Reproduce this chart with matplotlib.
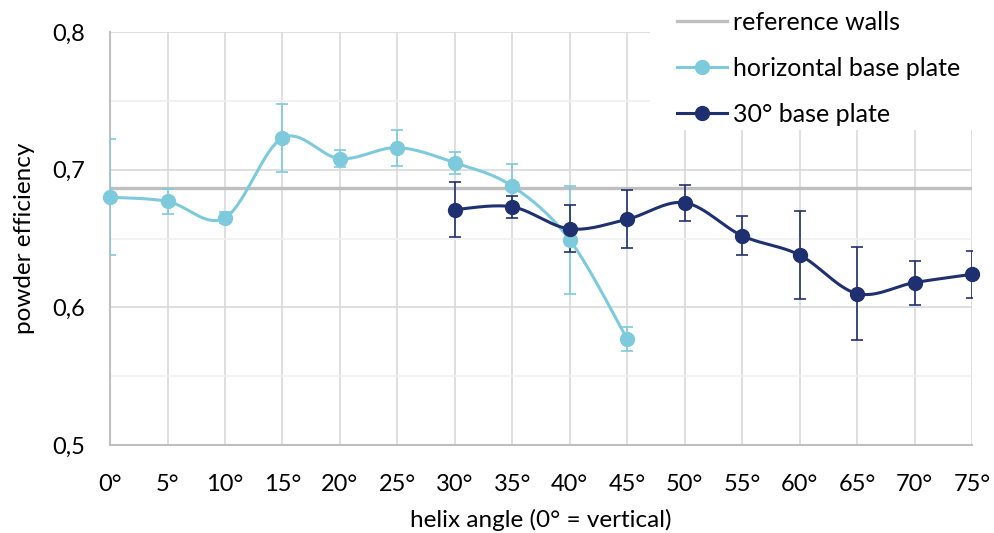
import numpy as np
import matplotlib
matplotlib.use("Agg")
import matplotlib.pyplot as plt
from matplotlib.patches import Rectangle
from matplotlib.ticker import FuncFormatter, MultipleLocator

plt.rcParams['font.family'] = ['Lato', 'DejaVu Sans']

# data
angles_h = [0, 5, 10, 15, 20, 25, 30, 35, 40, 45]
eff_h = [0.680, 0.677, 0.665, 0.723, 0.708, 0.716, 0.705, 0.688, 0.649, 0.577]
err_h = [0.042, 0.009, 0.004, 0.025, 0.006, 0.013, 0.008, 0.016, 0.039, 0.009]

angles_30 = [30, 35, 40, 45, 50, 55, 60, 65, 70, 75]
eff_30 = [0.671, 0.673, 0.657, 0.664, 0.676, 0.652, 0.638, 0.610, 0.618, 0.624]
err_30 = [0.020, 0.008, 0.017, 0.021, 0.013, 0.014, 0.032, 0.034, 0.016, 0.017]

ref_walls = 0.687

light = "#7ECADD"
dark = "#1F3070"


def smooth(x, y, n=30):
    # Catmull-Rom style smoothing like a spreadsheet "smoothed line"
    x = np.asarray(x, float)
    y = np.asarray(y, float)
    px = np.concatenate([[x[0]], x, [x[-1]]])
    py = np.concatenate([[y[0]], y, [y[-1]]])
    xs, ys = [], []
    t = np.linspace(0, 1, n)
    for i in range(1, len(px) - 2):
        p0 = np.array([px[i], py[i]])
        p3 = np.array([px[i + 1], py[i + 1]])
        c1 = p0 + (p3 - np.array([px[i - 1], py[i - 1]])) / 6
        c2 = p3 - (np.array([px[i + 2], py[i + 2]]) - p0) / 6
        b = ((1 - t) ** 3)[:, None] * p0 + (3 * (1 - t) ** 2 * t)[:, None] * c1 \
            + (3 * (1 - t) * t ** 2)[:, None] * c2 + (t ** 3)[:, None] * p3
        xs.append(b[:, 0])
        ys.append(b[:, 1])
    return np.concatenate(xs), np.concatenate(ys)


fig = plt.figure(figsize=(9.94, 5.33), dpi=100)
ax = fig.add_axes([0.1107, 0.165, 0.8672, 0.775])

ax.axhline(ref_walls, color="#BFBFBF", linewidth=2.4, zorder=2, label="reference walls")

for xs, ys, es, col, lab in [(angles_h, eff_h, err_h, light, "horizontal base plate"),
                             (angles_30, eff_30, err_30, dark, "30° base plate")]:
    sx, sy = smooth(xs, ys)
    ax.plot(sx, sy, color=col, linewidth=2.2, zorder=3)
    ax.errorbar(xs, ys, yerr=es, fmt="none", ecolor=col, elinewidth=1.2,
                capsize=4.5, capthick=1.2, zorder=3)
    ax.plot(xs, ys, "o", color=col, markersize=10, zorder=4, clip_on=False)
    ax.plot([], [], "-o", color=col, linewidth=2.2, markersize=10, label=lab)

ax.set_xlim(0, 75)
ax.set_ylim(0.5, 0.8)
ax.xaxis.set_major_locator(MultipleLocator(5))
ax.yaxis.set_major_locator(MultipleLocator(0.1))
ax.yaxis.set_minor_locator(MultipleLocator(0.05))
ax.xaxis.set_major_formatter(FuncFormatter(lambda v, p: f"{v:.0f}°"))
ax.yaxis.set_major_formatter(FuncFormatter(lambda v, p: f"{v:.1f}".replace(".", ",")))

ax.grid(True, which="major", color="#D9D9D9", linewidth=1.2, zorder=0)
ax.grid(True, which="minor", axis="y", color="#F0F0F0", linewidth=1.2, zorder=0)
ax.set_axisbelow(True)
for s in ["top", "right"]:
    ax.spines[s].set_visible(False)
for s in ["left", "bottom"]:
    ax.spines[s].set_color("#BFBFBF")
    ax.spines[s].set_linewidth(1.5)
ax.tick_params(which="both", length=0, labelsize=17, colors="black")
ax.tick_params(axis="x", pad=21)
ax.tick_params(axis="y", pad=18)

ax.set_xlabel("helix angle (0° = vertical)", fontsize=17.5, labelpad=9.5)
ax.set_ylabel("powder efficiency", fontsize=17.5, labelpad=12)

# white box behind the legend, hiding the grid there
fig.add_artist(Rectangle((650 / 994, 1 - 130 / 533), 344 / 994, 130 / 533,
                         transform=fig.transFigure, facecolor="white",
                         edgecolor="none", zorder=5))

handles, labels = ax.get_legend_handles_labels()
leg = fig.legend(handles, labels, loc="upper left", bbox_to_anchor=(666 / 994, 1.0),
                 fontsize=18, frameon=False, labelspacing=0.93, handlelength=2.0,
                 handletextpad=0.25, borderpad=0.42, borderaxespad=0)
leg.set_zorder(10)

fig.savefig("out.png", dpi=100)
